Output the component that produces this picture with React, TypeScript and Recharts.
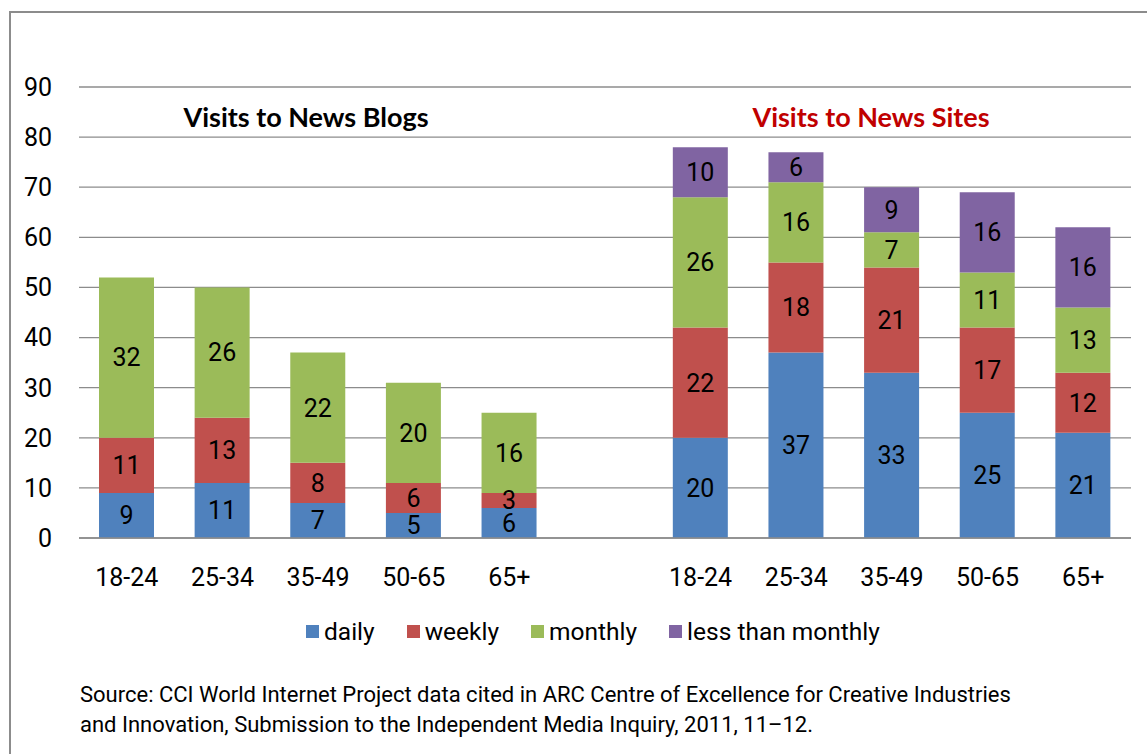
import { BarChart, Bar, XAxis, YAxis, CartesianGrid, LabelList } from "recharts";

const ageGroups = ["18-24", "25-34", "35-49", "50-65", "65+"];

// Visits to News Blogs
const blogDaily = [9, 11, 7, 5, 6];
const blogWeekly = [11, 13, 8, 6, 3];
const blogMonthly = [32, 26, 22, 20, 16];

// Visits to News Sites
const siteDaily = [20, 37, 33, 25, 21];
const siteWeekly = [22, 18, 21, 17, 12];
const siteMonthly = [26, 16, 7, 11, 13];
const siteLess = [10, 6, 9, 16, 16];

const yTicks = [0, 10, 20, 30, 40, 50, 60, 70, 80, 90];

const SERIES = [
  { key: "daily", name: "daily", color: "#4F81BD" },
  { key: "weekly", name: "weekly", color: "#C0504D" },
  { key: "monthly", name: "monthly", color: "#9BBB59" },
  { key: "less", name: "less than monthly", color: "#8064A2" },
];

const NUM_FONT = "Roboto, sans-serif";

const data = [
  ...ageGroups.map((g, i) => ({
    id: `b${i}`,
    label: g,
    daily: blogDaily[i],
    weekly: blogWeekly[i],
    monthly: blogMonthly[i],
    less: null,
  })),
  { id: "gap", label: "", daily: null, weekly: null, monthly: null, less: null },
  ...ageGroups.map((g, i) => ({
    id: `s${i}`,
    label: g,
    daily: siteDaily[i],
    weekly: siteWeekly[i],
    monthly: siteMonthly[i],
    less: siteLess[i],
  })),
];

const labelOf = (id: string) => data.find((d) => d.id === id)?.label ?? "";

export default function App() {
  return (
    <div
      style={{
        position: "absolute",
        left: 0,
        top: 0,
        width: 1147,
        height: 754,
        background: "#fff",
        overflow: "hidden",
      }}
    >
      <div
        style={{
          position: "absolute",
          left: 9,
          top: 11,
          width: 1160,
          height: 780,
          border: "2px solid #8c8c8c",
        }}
      />
      <div style={{ position: "absolute", left: 0, top: 0 }}>
        <BarChart
          width={1147}
          height={600}
          data={data}
          margin={{ top: 87, right: 16, bottom: 32, left: 0 }}
          barSize={55}
        >
          <CartesianGrid vertical={false} stroke="#8c8c8c" strokeWidth={1.3} />
          <XAxis
            dataKey="id"
            tickFormatter={labelOf}
            axisLine={{ stroke: "#8c8c8c", strokeWidth: 1.3 }}
            tickLine={false}
            tickSize={0}
            tickMargin={30}
            interval={0}
            tick={{ fill: "#000", fontSize: 25, fontFamily: NUM_FONT }}
          />
          <YAxis
            width={79}
            domain={[0, 90]}
            ticks={yTicks}
            axisLine={false}
            tickLine={false}
            tickSize={0}
            tickMargin={27}
            tick={{ fill: "#000", fontSize: 25, fontFamily: NUM_FONT }}
          />
          {SERIES.map((s) => (
            <Bar
              key={s.key}
              dataKey={s.key}
              name={s.name}
              stackId="a"
              fill={s.color}
              isAnimationActive={false}
            >
              <LabelList
                dataKey={s.key}
                position="center"
                fill="#000"
                fontSize={25}
                fontFamily={NUM_FONT}
              />
            </Bar>
          ))}
        </BarChart>
      </div>

      <div
        style={{
          position: "absolute",
          left: 306,
          top: 100,
          transform: "translateX(-50%)",
          fontFamily: "Lato, sans-serif",
          fontWeight: 700,
          fontSize: 27,
          color: "#000",
          whiteSpace: "nowrap",
        }}
      >
        Visits to News Blogs
      </div>
      <div
        style={{
          position: "absolute",
          left: 871,
          top: 100,
          transform: "translateX(-50%)",
          fontFamily: "Lato, sans-serif",
          fontWeight: 700,
          fontSize: 27,
          color: "#C00000",
          whiteSpace: "nowrap",
        }}
      >
        Visits to News Sites
      </div>

      <div
        style={{
          position: "absolute",
          left: 306,
          top: 617,
          display: "flex",
          alignItems: "center",
          fontFamily: NUM_FONT,
          fontSize: 24.5,
          color: "#000",
          whiteSpace: "nowrap",
        }}
      >
        {SERIES.map((s) => (
          <div key={s.key} style={{ display: "flex", alignItems: "center", marginRight: 32 }}>
            <span
              style={{
                display: "inline-block",
                width: 13,
                height: 13,
                background: s.color,
                marginRight: 5,
              }}
            />
            <span>{s.name}</span>
          </div>
        ))}
      </div>

      <div
        style={{
          position: "absolute",
          left: 80,
          top: 680,
          fontFamily: NUM_FONT,
          fontSize: 22,
          lineHeight: "30px",
          color: "#000",
          whiteSpace: "nowrap",
        }}
      >
        Source: CCI World Internet Project data cited in ARC Centre of Excellence for Creative Industries
        <br />
        and Innovation, Submission to the Independent Media Inquiry, 2011, 11–12.
      </div>
    </div>
  );
}
